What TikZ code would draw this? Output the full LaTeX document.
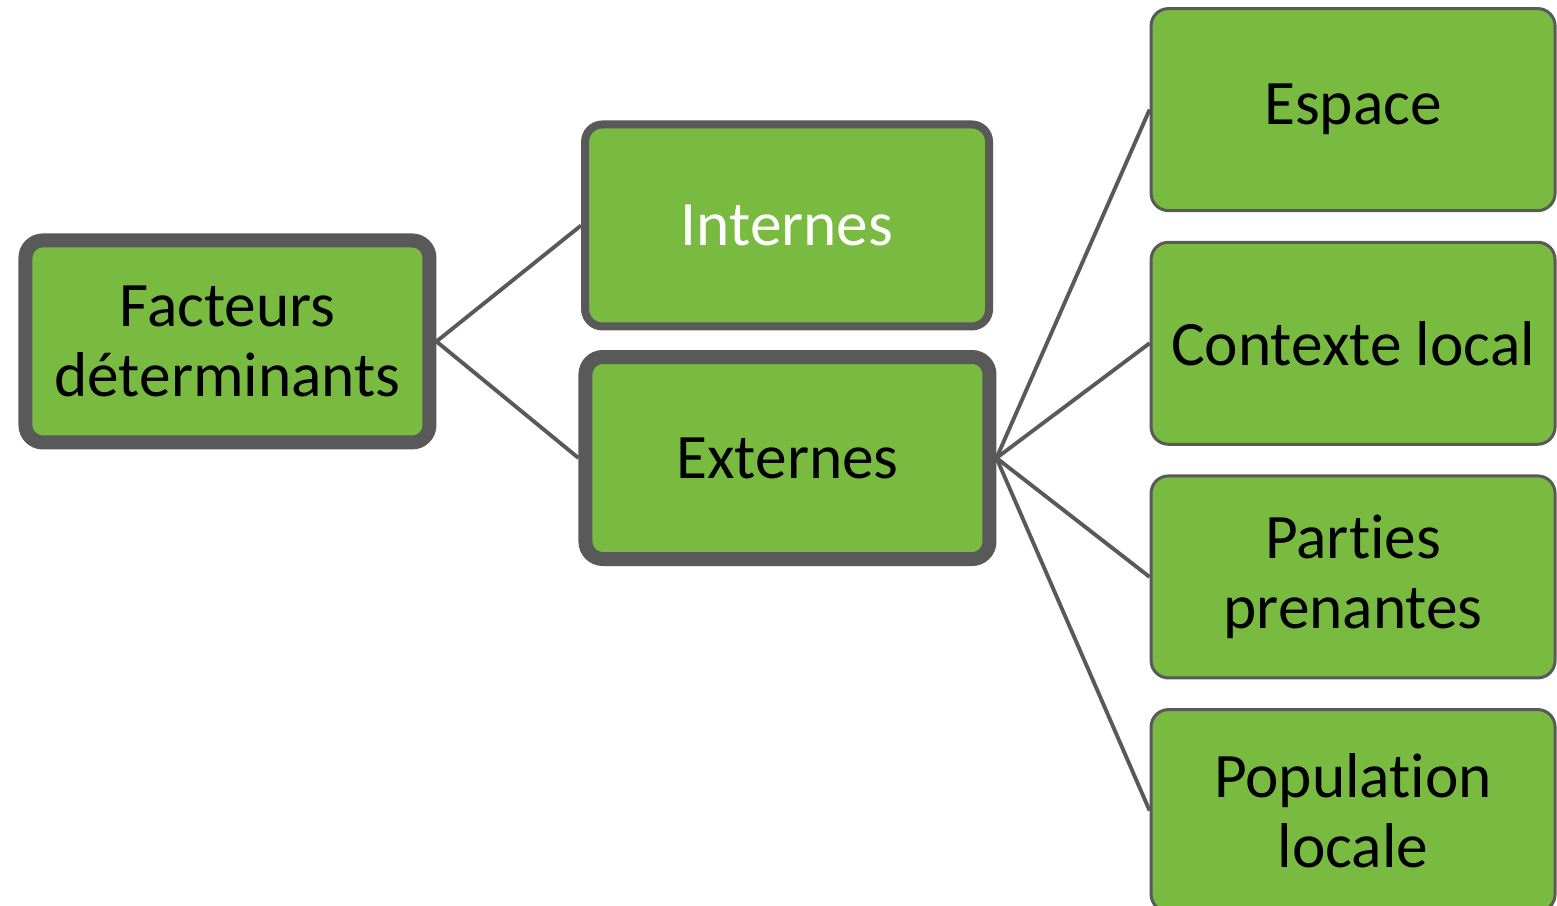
\documentclass[tikz,border=0pt]{standalone}
\usepackage{fontspec}
\setmainfont[Ligatures={NoCommon,NoContextual},RawFeature={-liga;-clig;-calt;-dlig}]{Carlito}
\usepackage{tikz}
\usetikzlibrary{
    positioning
}
\definecolor{leafgreen}{RGB}{120,187,64}
\definecolor{edgegray}{RGB}{89,89,89}
\tikzset{
    box/.style = {
        rectangle,
        rounded corners=13pt,
        draw=edgegray,
        fill=leafgreen,
        minimum width=303pt,
        minimum height=151.5pt,
        inner sep=0pt,
        align=center,
        font=\fontsize{47.5}{52}\selectfont
    },
    rootbox/.style = {
        box,
        line width=10.5pt
    },
    midbox/.style = {
        box,
        line width=6pt
    },
    leafbox/.style = {
        box,
        line width=2.25pt
    },
    link/.style = {
        draw=edgegray,
        line width=2.9pt
    }
}

\begin{document}
\begin{tikzpicture}[node distance=21.5pt]
\useasboundingbox (0,0) rectangle (1167.75pt,-679.5pt);
\node (facteurs) [rootbox] at (170.6pt,-256.1pt) {Facteurs\\d\'eterminants};
\node (internes) [midbox, text=white] at (590.3pt,-169.1pt) {Internes};
\node (externes) [rootbox] at (590.6pt,-343.5pt) {Externes};
\node (espace) [leafbox] at (1014.8pt,-82.2pt) {Espace};
\node (contexte) [leafbox, below=of espace] {Contexte local};
\node (parties) [leafbox, below=of contexte] {Parties\\prenantes};
\node (population) [leafbox, below=of parties] {Population\\locale};

\draw [link] (facteurs.east) -- (internes.west);
\draw [link] (facteurs.east) -- (externes.west);
\draw [link] (externes.east) -- (espace.west);
\draw [link] (externes.east) -- (contexte.west);
\draw [link] (externes.east) -- (parties.west);
\draw [link] (externes.east) -- (population.west);
\end{tikzpicture}
\end{document}
